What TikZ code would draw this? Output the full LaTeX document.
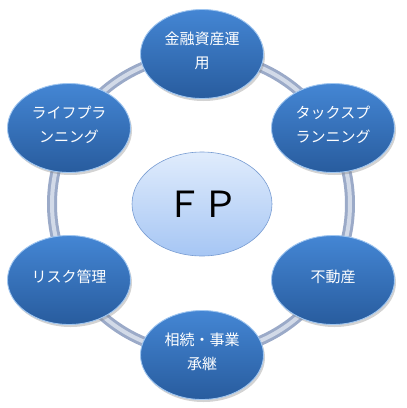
\documentclass[tikz,border=0pt]{standalone}
\usepackage{fontspec}
\newfontfamily\jp{Noto Sans CJK JP}
\usetikzlibrary{shapes.geometric,shadows,fadings}
\definecolor{nodetop}{RGB}{68,134,212}
\definecolor{nodebot}{RGB}{40,92,158}
\definecolor{noderim}{RGB}{160,198,240}
\definecolor{fptop}{RGB}{224,236,252}
\definecolor{fpbot}{RGB}{166,198,244}
\definecolor{fpline}{RGB}{120,156,210}
\definecolor{ringouter}{RGB}{155,170,200}
\definecolor{ringinner}{RGB}{210,218,232}
\tikzset{
  topic/.style={ellipse, minimum width=123pt, minimum height=89pt, inner sep=0pt,
    top color=nodetop, bottom color=nodebot, draw=noderim, line width=0.9pt,
    drop shadow={opacity=0.35, shadow xshift=1.5pt, shadow yshift=-2.5pt},
    text=white, align=center, text depth=8pt, font=\jp\fontsize{15}{24}\selectfont},
  core/.style={ellipse, minimum width=140pt, minimum height=104pt, inner sep=0pt,
    top color=fptop, bottom color=fpbot, draw=fpline, line width=0.6pt,
    font=\jp\fontsize{36}{40}\selectfont, text=black},
}
\begin{document}
\begin{tikzpicture}[x=1pt,y=-1pt]
\useasboundingbox (0,0) rectangle (407,408);
\coordinate (ringc) at (201,204);
\draw[ringouter, line width=10pt] (ringc) circle[radius=149pt];
\draw[ringinner, line width=4pt] (ringc) circle[radius=149pt];
\node[core] (fp) at (202,204) {ＦＰ};
\node[topic] (kinyu) at (202,54) {金融資産運\\用};
\node[topic] (tax) at (333,128) {タックスプ\\ランニング};
\node[topic] (fudosan) at (333,280) {不動産};
\node[topic] (sozoku) at (202,355) {相続・事業\\承継};
\node[topic] (risk) at (69,280) {リスク管理};
\node[topic] (life) at (69,128) {ライフプラ\\ンニング};
\end{tikzpicture}
\end{document}
